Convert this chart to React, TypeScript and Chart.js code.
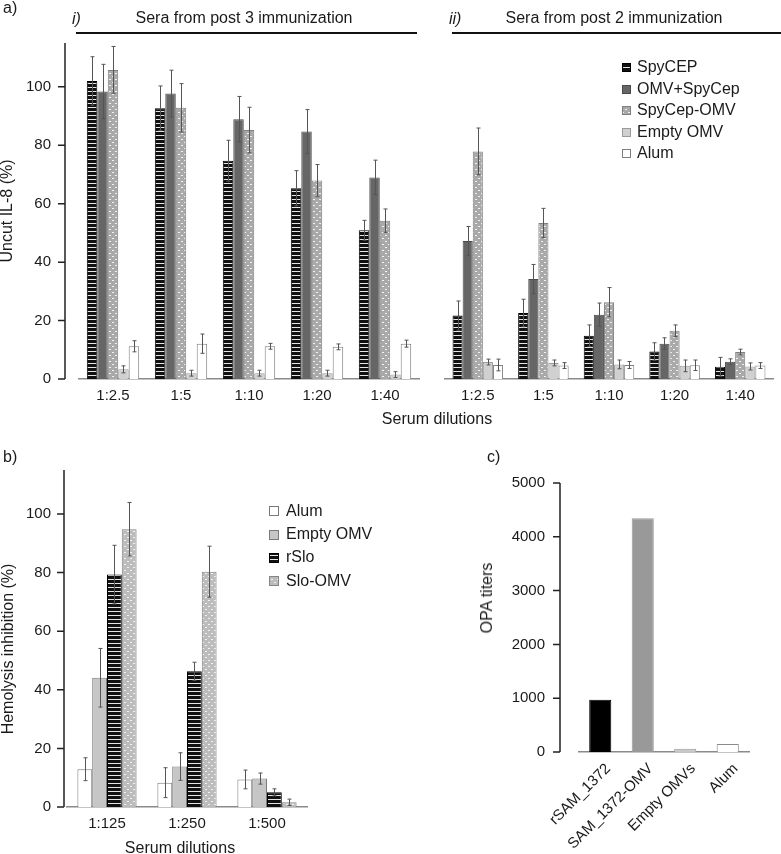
import React, { useEffect, useRef } from "react";
import { Chart, registerables } from "chart.js";

Chart.register(...registerables);

const FONT = "'Liberation Sans', Arial, Helvetica, sans-serif";
const TEXT = "#1a1a1a";
const TICK_SIZE = 15;
const TITLE_SIZE = 16;

// ---------- Panel a (IL-8) ----------
const dilutionsA = ["1:2.5", "1:5", "1:10", "1:20", "1:40"];
const seriesA = ["SpyCEP", "OMV+SpyCep", "SpyCep-OMV", "Empty OMV", "Alum"];

// i) post 3 immunization
const p3SpyCEP = [102, 92.7, 74.7, 65.3, 50.9];
const p3SpyCEPErr = [8.3, 7.6, 7, 6, 3.4];
const p3OmvPlus = [98.4, 97.7, 88.9, 84.7, 69];
const p3OmvPlusErr = [9.3, 8, 7.8, 7.5, 5.9];
const p3SpyCepOmv = [105.8, 92.8, 85.2, 67.9, 54.2];
const p3SpyCepOmvErr = [8, 8.3, 7.8, 5.5, 4];
const p3Empty = [3.3, 2, 2, 2, 1.5];
const p3EmptyErr = [1.2, 1, 1, 1, 1];
const p3Alum = [11.2, 12.1, 11.2, 11, 12.1];
const p3AlumErr = [1.9, 3.3, 1, 1, 1.2];

// ii) post 2 immunization
const p2SpyCEP = [21.7, 22.6, 14.8, 9.4, 4.2];
const p2SpyCEPErr = [5, 4.7, 3.7, 3, 3.2];
const p2OmvPlus = [47.2, 34.2, 22, 12.1, 5.9];
const p2OmvPlusErr = [5, 5, 4, 2, 1];
const p2SpyCepOmv = [77.9, 53.4, 26.3, 16.5, 9.2];
const p2SpyCepOmvErr = [8, 5, 5, 2, 1];
const p2Empty = [5.8, 5.5, 5, 4.5, 4.3];
const p2EmptyErr = [1, 1, 1.5, 2, 1.2];
const p2Alum = [4.8, 4.6, 4.8, 4.7, 4.6];
const p2AlumErr = [2, 1, 1.2, 1.8, 1];

const yTicksA = { min: 0, max: 115, step: 20 };

// ---------- Panel b (hemolysis) ----------
const dilutionsB = ["1:125", "1:250", "1:500"];
const seriesB = ["Alum", "Empty OMV", "rSlo", "Slo-OMV"];
const bAlum = [12.9, 8.3, 9.4];
const bAlumErr = [3.9, 5.1, 3.2];
const bEmpty = [44.1, 13.8, 9.7];
const bEmptyErr = [10, 4.7, 1.9];
const bRSlo = [79.3, 46.3, 5];
const bRSloErr = [10, 3.1, 1.2];
const bSloOmv = [94.8, 80.3, 1.6];
const bSloOmvErr = [9.1, 8.7, 1.1];

// ---------- Panel c (OPA) ----------
const groupsC = ["rSAM_1372", "SAM_1372-OMV", "Empty OMVs", "Alum"];
const opaTiters = [970, 4345, 60, 150];
const yTicksC = { min: 0, max: 5000, step: 1000 };

// ---------- patterns ----------
function stripePattern(): CanvasPattern | string {
  const c = document.createElement("canvas");
  c.width = 4;
  c.height = 4;
  const g = c.getContext("2d");
  if (!g) return "#111";
  g.fillStyle = "#111111";
  g.fillRect(0, 0, 4, 4);
  g.fillStyle = "#e6e6e6";
  g.fillRect(0, 3, 4, 1);
  return g.createPattern(c, "repeat") || "#111";
}

function dotPattern(bg: string): CanvasPattern | string {
  const c = document.createElement("canvas");
  c.width = 6;
  c.height = 6;
  const g = c.getContext("2d");
  if (!g) return bg;
  g.fillStyle = bg;
  g.fillRect(0, 0, 6, 6);
  g.fillStyle = "#f2f2f2";
  g.fillRect(1, 1, 2, 1);
  g.fillRect(4, 4, 2, 1);
  return g.createPattern(c, "repeat") || bg;
}

// ---------- plugins ----------
const errorBarPlugin = {
  id: "errorBars",
  afterDatasetsDraw(chart: any) {
    const { ctx } = chart;
    const ys = chart.scales.y;
    ctx.save();
    ctx.strokeStyle = "#555";
    ctx.lineWidth = 1;
    chart.data.datasets.forEach((ds: any, di: number) => {
      const errs = ds.errors;
      if (!errs) return;
      const meta = chart.getDatasetMeta(di);
      meta.data.forEach((bar: any, i: number) => {
        const v = ds.data[i];
        const e = errs[i];
        if (e == null) return;
        const x = Math.round(bar.x) + 0.5;
        const yt = ys.getPixelForValue(v + e);
        const yb = ys.getPixelForValue(Math.max(0, v - e));
        ctx.beginPath();
        ctx.moveTo(x, yt);
        ctx.lineTo(x, yb);
        ctx.moveTo(x - 2, yt);
        ctx.lineTo(x + 2, yt);
        ctx.moveTo(x - 2, yb);
        ctx.lineTo(x + 2, yb);
        ctx.stroke();
      });
    });
    ctx.restore();
  },
};

const sideAxisPlugin = {
  id: "sideAxis",
  afterDraw(chart: any, _args: any, opts: any) {
    if (!opts || !opts.show) return;
    const { ctx, chartArea } = chart;
    const ys = chart.scales.y;
    const x0 = chartArea.left - opts.gap;
    ctx.save();
    ctx.strokeStyle = "#222";
    ctx.lineWidth = 1.5;
    ctx.beginPath();
    ctx.moveTo(x0, chartArea.top);
    ctx.lineTo(x0, chartArea.bottom);
    ys.ticks.forEach((t: any) => {
      const py = ys.getPixelForValue(t.value);
      ctx.moveTo(x0 - 7, py);
      ctx.lineTo(x0, py);
    });
    ctx.stroke();
    ctx.restore();
  },
};

const boxLegendPlugin = {
  id: "boxLegend",
  afterDraw(chart: any, _args: any, opts: any) {
    if (!opts || !opts.show) return;
    const { ctx } = chart;
    ctx.save();
    ctx.font = `${opts.fontSize}px ${FONT}`;
    ctx.textBaseline = "middle";
    ctx.textAlign = "left";
    chart.data.datasets.forEach((ds: any, i: number) => {
      const cy = opts.y + i * opts.dy;
      const bx = opts.x;
      const by = Math.round(cy - opts.box / 2);
      ctx.fillStyle = ds.backgroundColor;
      ctx.fillRect(bx, by, opts.box, opts.box);
      ctx.strokeStyle = ds.borderColor;
      ctx.lineWidth = 1;
      ctx.strokeRect(bx + 0.5, by + 0.5, opts.box - 1, opts.box - 1);
      ctx.fillStyle = TEXT;
      ctx.fillText(ds.label, opts.textX, cy);
    });
    ctx.restore();
  },
};

// ---------- chart config builders ----------
function barConfig(p: {
  labels: string[];
  datasets: any[];
  yRange: { min: number; max: number; step: number };
  padding: any;
  yWidth: number;
  xHeight: number;
  showY: boolean;
  yLabelPad: number;
  xLabelPad: number;
  xLabelOffset?: number;
  yTitle?: any;
  catPct: number;
  barPct: number;
  xRotation?: number;
  legend?: any;
}) {
  return {
    type: "bar",
    data: { labels: p.labels, datasets: p.datasets },
    options: {
      animation: false,
      responsive: false,
      events: [],
      layout: { padding: p.padding },
      datasets: { bar: { categoryPercentage: p.catPct, barPercentage: p.barPct } },
      plugins: {
        legend: { display: false },
        tooltip: { enabled: false },
        sideAxis: { show: p.showY, gap: p.showY ? p.padding.axisGap : 0 },
        boxLegend: p.legend ? { show: true, ...p.legend } : { show: false },
      },
      scales: {
        x: {
          type: "category",
          offset: true,
          grid: { display: false, drawTicks: false },
          border: { display: true, color: "#8a8a8a", width: 1.5 },
          ticks: {
            color: TEXT,
            font: { family: FONT, size: TICK_SIZE },
            padding: p.xLabelPad,
            labelOffset: p.xLabelOffset || 0,
            autoSkip: false,
            minRotation: p.xRotation || 0,
            maxRotation: p.xRotation || 0,
          },
          afterFit: (s: any) => {
            s.height = p.xHeight;
          },
        },
        y: {
          type: "linear",
          display: p.showY,
          min: p.yRange.min,
          max: p.yRange.max,
          grid: { display: false, drawTicks: false },
          border: { display: false },
          ticks: {
            stepSize: p.yRange.step,
            includeBounds: false,
            color: TEXT,
            font: { family: FONT, size: TICK_SIZE },
            padding: p.yLabelPad,
            callback: (v: any) => String(v),
          },
          title: p.yTitle || { display: false },
          afterFit: (s: any) => {
            s.width = p.yWidth;
          },
        },
      },
    },
    plugins: [errorBarPlugin, sideAxisPlugin, boxLegendPlugin],
  };
}

function makeConfigAi() {
  const stripe = stripePattern();
  const dots = dotPattern("#a9a9a9");
  return barConfig({
    labels: dilutionsA,
    datasets: [
      { label: seriesA[0], data: p3SpyCEP, errors: p3SpyCEPErr, backgroundColor: stripe, borderColor: "#000", borderWidth: 1 },
      { label: seriesA[1], data: p3OmvPlus, errors: p3OmvPlusErr, backgroundColor: "#666666", borderColor: "#4a4a4a", borderWidth: 1 },
      { label: seriesA[2], data: p3SpyCepOmv, errors: p3SpyCepOmvErr, backgroundColor: dots, borderColor: "#808080", borderWidth: 1 },
      { label: seriesA[3], data: p3Empty, errors: p3EmptyErr, backgroundColor: "#d0d0d0", borderColor: "#9a9a9a", borderWidth: 1 },
      { label: seriesA[4], data: p3Alum, errors: p3AlumErr, backgroundColor: "#ffffff", borderColor: "#808080", borderWidth: 1 },
    ],
    yRange: yTicksA,
    padding: { top: 43, right: 1, bottom: 0, left: 0, axisGap: 14 },
    yWidth: 79,
    xHeight: 41,
    showY: true,
    yLabelPad: 28,
    xLabelPad: 8,
    yTitle: {
      display: true,
      text: "Uncut IL-8 (%)",
      color: TEXT,
      font: { family: FONT, size: TITLE_SIZE },
      padding: { top: -2, bottom: 0 },
    },
    catPct: 0.77,
    barPct: 1,
  });
}

function makeConfigAii() {
  const stripe = stripePattern();
  const dots = dotPattern("#a9a9a9");
  return barConfig({
    labels: dilutionsA,
    datasets: [
      { label: seriesA[0], data: p2SpyCEP, errors: p2SpyCEPErr, backgroundColor: stripe, borderColor: "#000", borderWidth: 1 },
      { label: seriesA[1], data: p2OmvPlus, errors: p2OmvPlusErr, backgroundColor: "#666666", borderColor: "#4a4a4a", borderWidth: 1 },
      { label: seriesA[2], data: p2SpyCepOmv, errors: p2SpyCepOmvErr, backgroundColor: dots, borderColor: "#808080", borderWidth: 1 },
      { label: seriesA[3], data: p2Empty, errors: p2EmptyErr, backgroundColor: "#d0d0d0", borderColor: "#9a9a9a", borderWidth: 1 },
      { label: seriesA[4], data: p2Alum, errors: p2AlumErr, backgroundColor: "#ffffff", borderColor: "#808080", borderWidth: 1 },
    ],
    yRange: yTicksA,
    padding: { top: 43, right: 8, bottom: 0, left: 25 },
    yWidth: 0,
    xHeight: 41,
    showY: false,
    yLabelPad: 0,
    xLabelPad: 8,
    catPct: 0.77,
    barPct: 1,
    legend: { x: 202, y: 67.5, dy: 21.6, box: 9, textX: 217, fontSize: TITLE_SIZE },
  });
}

function makeConfigB() {
  const stripe = stripePattern();
  const dots = dotPattern("#bcbcbc");
  return barConfig({
    labels: dilutionsB,
    datasets: [
      { label: seriesB[0], data: bAlum, errors: bAlumErr, backgroundColor: "#ffffff", borderColor: "#7a7a7a", borderWidth: 1 },
      { label: seriesB[1], data: bEmpty, errors: bEmptyErr, backgroundColor: "#c6c6c6", borderColor: "#7a7a7a", borderWidth: 1 },
      { label: seriesB[2], data: bRSlo, errors: bRSloErr, backgroundColor: stripe, borderColor: "#000", borderWidth: 1 },
      { label: seriesB[3], data: bSloOmv, errors: bSloOmvErr, backgroundColor: dots, borderColor: "#858585", borderWidth: 1 },
    ],
    yRange: yTicksA,
    padding: { top: 30, right: 113, bottom: 0, left: 0, axisGap: 3 },
    yWidth: 67,
    xHeight: 47,
    showY: true,
    yLabelPad: 16,
    xLabelPad: 8,
    catPct: 0.74,
    barPct: 1,
    legend: { x: 269, y: 71.3, dy: 23.3, box: 10, textX: 286, fontSize: TITLE_SIZE },
  });
}

function makeConfigC() {
  return barConfig({
    labels: groupsC,
    datasets: [
      {
        label: "OPA titers",
        data: opaTiters,
        backgroundColor: ["#000000", "#999999", "#c8c8c8", "#ffffff"],
        borderColor: ["#000000", "#999999", "#9a9a9a", "#8a8a8a"],
        borderWidth: 1,
      },
    ],
    yRange: yTicksC,
    padding: { top: 41, right: 32, bottom: 0, left: 0, axisGap: 19 },
    yWidth: 139,
    xHeight: 102,
    showY: true,
    yLabelPad: 34,
    xLabelPad: 8,
    xLabelOffset: 8,
    catPct: 1,
    barPct: 0.52,
    xRotation: 45,
  });
}

function ChartCanvas(props: { left: number; top: number; width: number; height: number; make: () => any }) {
  const ref = useRef<HTMLCanvasElement | null>(null);
  useEffect(() => {
    if (!ref.current) return;
    const chart = new Chart(ref.current, props.make());
    return () => chart.destroy();
  }, []);
  return (
    <canvas
      ref={ref}
      width={props.width}
      height={props.height}
      style={{ position: "absolute", left: props.left, top: props.top, width: props.width, height: props.height }}
    />
  );
}

function Label(props: { x: number; y: number; text: string; italic?: boolean; rotate?: boolean; size?: number; align?: "left" | "center" }) {
  const align = props.align || "center";
  const tx = align === "center" ? "-50%" : "0";
  return (
    <div
      style={{
        position: "absolute",
        left: props.x,
        top: props.y,
        transform: `translate(${tx}, -50%)${props.rotate ? " rotate(-90deg)" : ""}`,
        fontFamily: FONT,
        fontSize: props.size || TITLE_SIZE,
        fontStyle: props.italic ? "italic" : "normal",
        fontWeight: "normal",
        color: TEXT,
        whiteSpace: "nowrap",
        lineHeight: 1,
      }}
    >
      {props.text}
    </div>
  );
}

function HLine(props: { x1: number; x2: number; y: number }) {
  return (
    <div
      style={{
        position: "absolute",
        left: props.x1,
        top: props.y - 1,
        width: props.x2 - props.x1,
        height: 2,
        background: "#111",
      }}
    />
  );
}

export default function App() {
  return (
    <div
      style={{
        position: "absolute",
        left: 0,
        top: 0,
        width: 781,
        height: 854,
        overflow: "hidden",
        background: "#fff",
      }}
    >
      <ChartCanvas left={0} top={0} width={420} height={420} make={makeConfigAi} />
      <ChartCanvas left={420} top={0} width={361} height={420} make={makeConfigAii} />
      <ChartCanvas left={0} top={440} width={420} height={414} make={makeConfigB} />
      <ChartCanvas left={440} top={440} width={341} height={414} make={makeConfigC} />

      <Label x={3} y={8} text="a)" align="left" />
      <Label x={72} y={19} text="i)" italic align="left" />
      <Label x={244} y={18} text="Sera from post 3 immunization" />
      <HLine x1={76} x2={417} y={33} />
      <Label x={449} y={19} text="ii)" italic align="left" />
      <Label x={614} y={18} text="Sera from post 2 immunization" />
      <HLine x1={452} x2={781} y={33} />
      <Label x={437} y={419} text="Serum dilutions" />

      <Label x={3} y={457} text="b)" align="left" />
      <Label x={7.5} y={649} text="Hemolysis inhibition (%)" rotate />
      <Label x={180} y={848} text="Serum dilutions" />

      <Label x={487} y={457} text="c)" align="left" />
      <Label x={487} y={598} text="OPA titers" rotate />
    </div>
  );
}
